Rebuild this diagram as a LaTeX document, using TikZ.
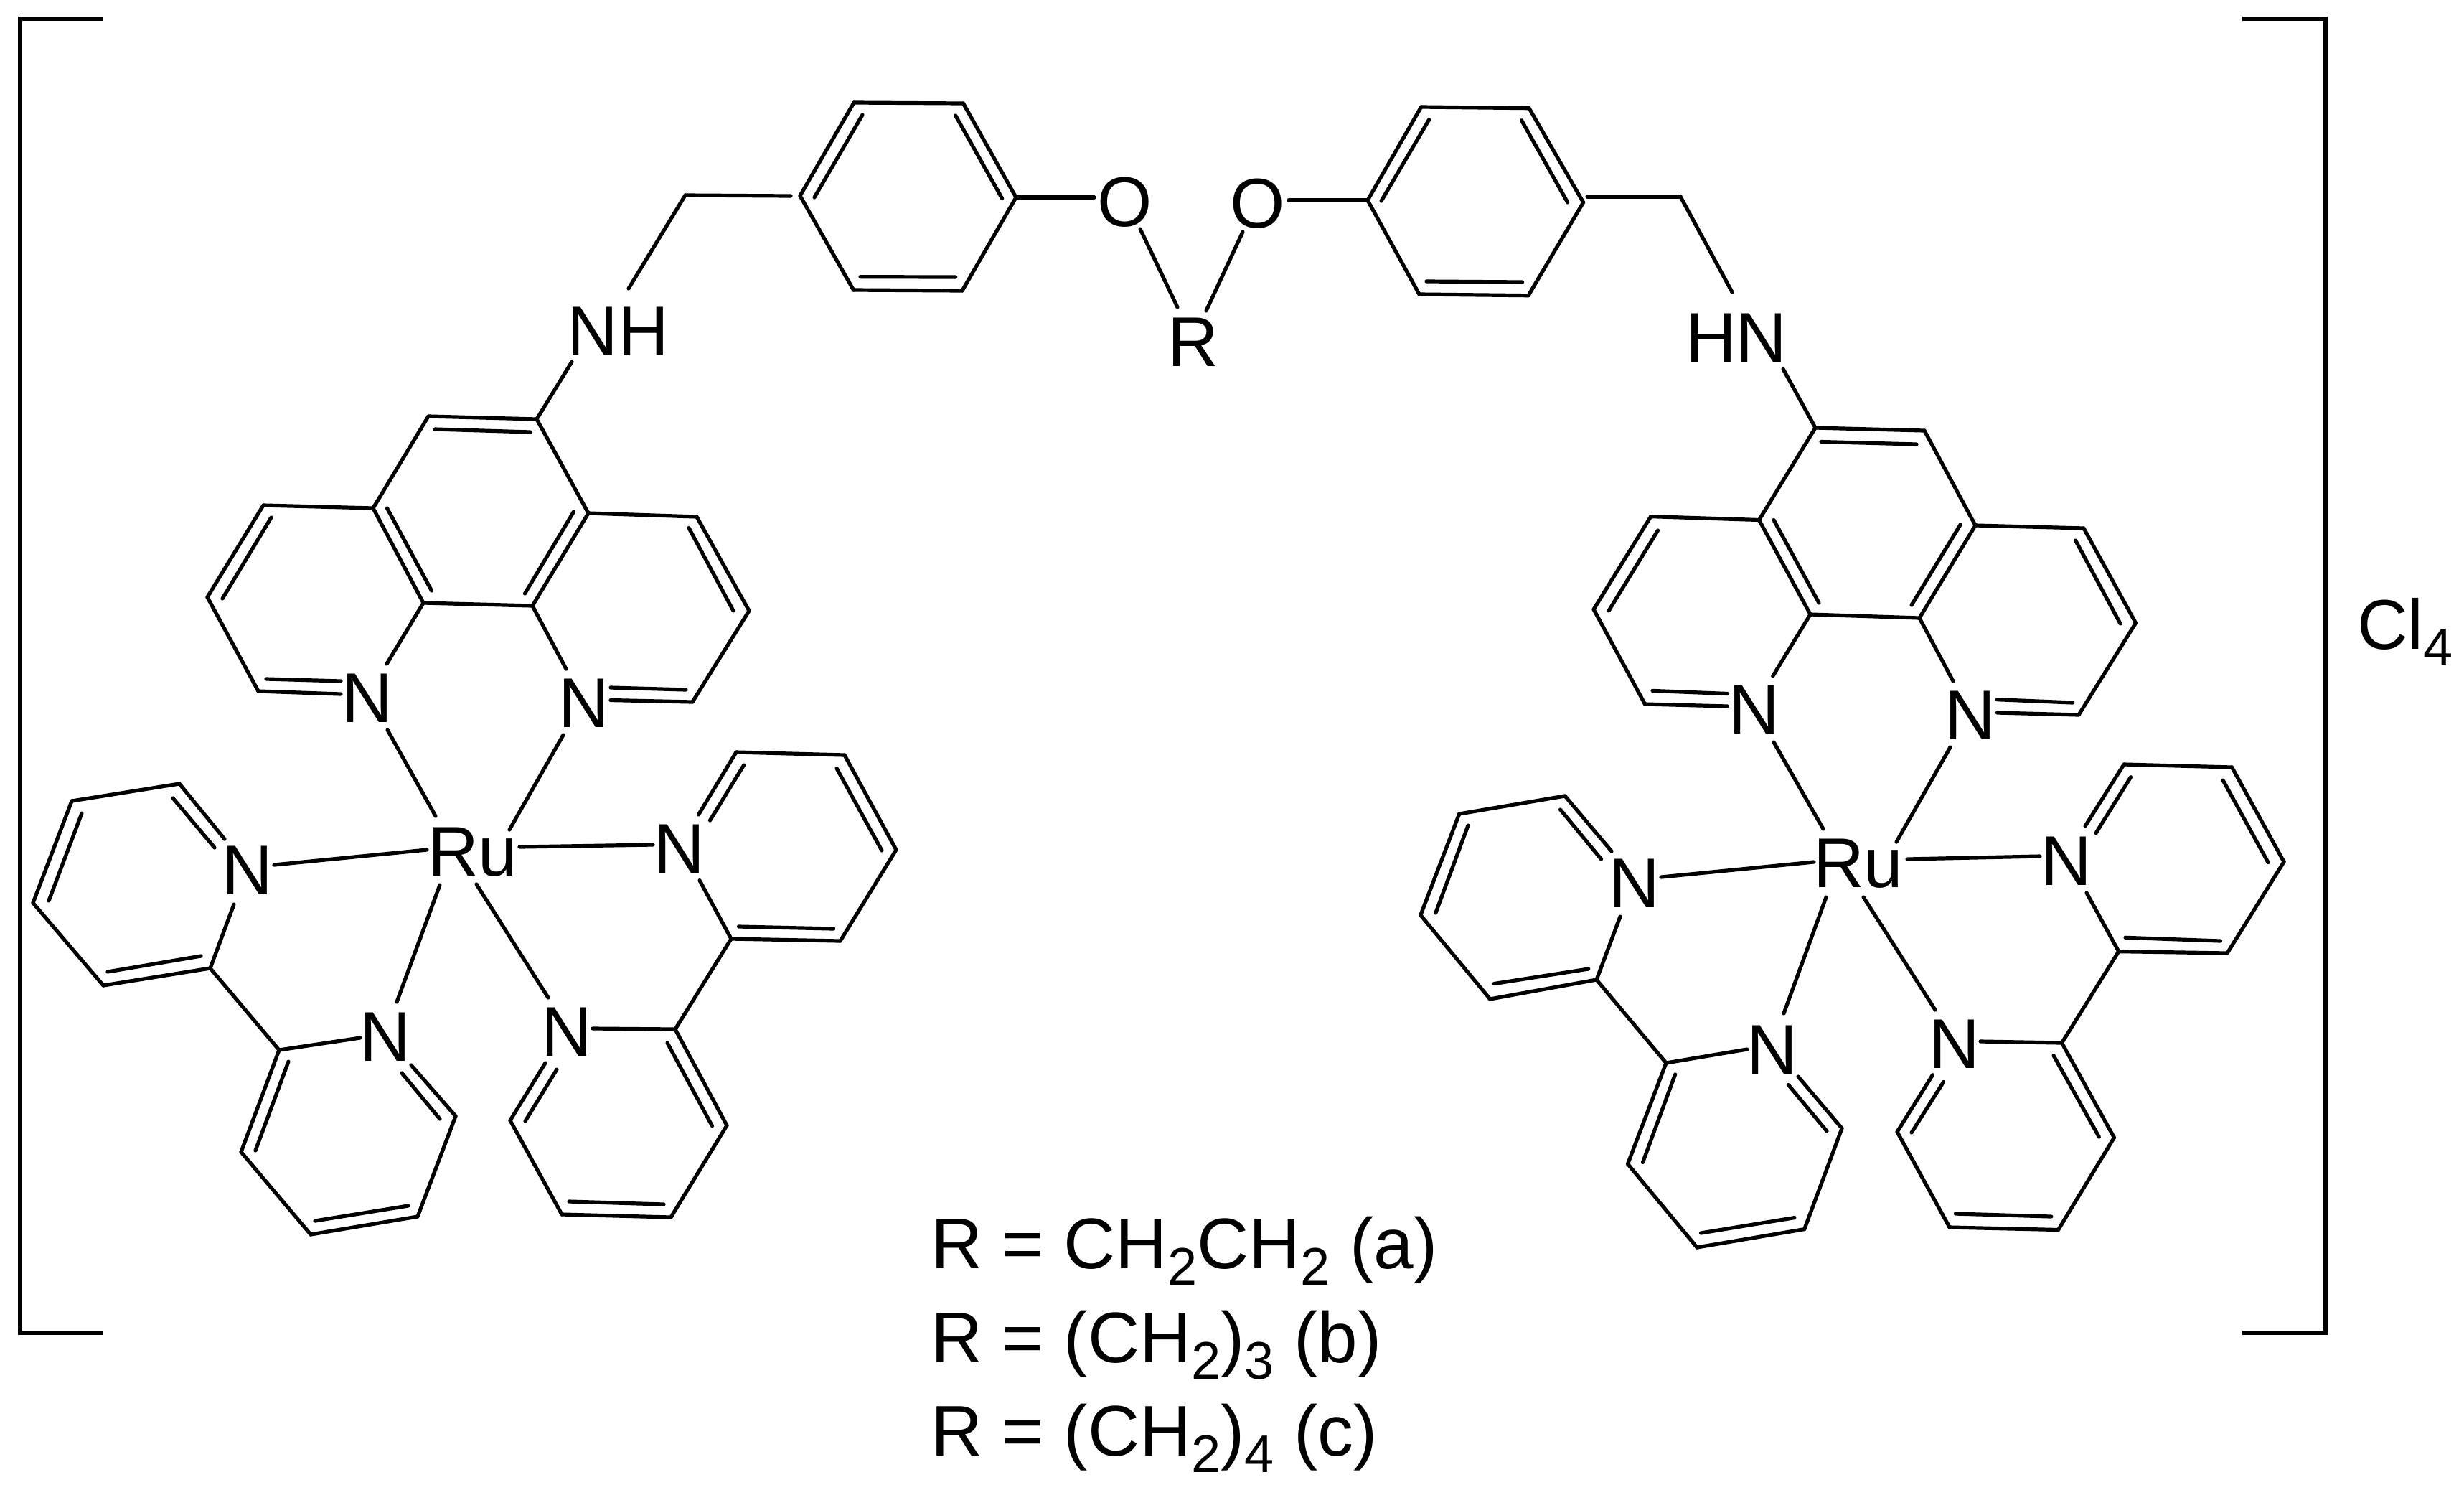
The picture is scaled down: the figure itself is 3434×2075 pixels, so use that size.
\documentclass[tikz,border=0pt]{standalone}
\usepackage{fontspec}
\setmainfont{Liberation Sans}
\newcommand{\chemsize}{\fontsize{27.9pt}{30pt}\selectfont}
\newcommand{\linesize}{\fontsize{28.4pt}{30pt}\selectfont}
\newcommand{\subsize}{\fontsize{21pt}{23pt}\selectfont}
\newcommand{\lowered}[1]{\raisebox{-0.236cm}{\subsize #1}}
\tikzset{
  bond/.style={line width=0.052cm,line cap=round,line join=round,black},
  brack/.style={line width=0.06cm,line cap=butt,line join=miter,black},
  atomlabel/.style={inner sep=0pt,outer sep=0pt,anchor=base,font=\chemsize},
  atomwest/.style={inner sep=0pt,outer sep=0pt,anchor=base west,font=\chemsize},
  textline/.style={inner sep=0pt,outer sep=0pt,anchor=base west,font=\linesize},
}
\begin{document}
\begin{tikzpicture}[x=0.01cm,y=-0.01cm]
\useasboundingbox (0,0) rectangle (3434,2075);
% ---------- left half coordinates
\foreach \n/\x/\y in {
 a/597/580,b/748/584,c/820/715,d/971/720,e/1044/851,f/965/978,g/742/844,h/590/840,i/520/708,j/367/704,k/289/832,l/360/963,
 abA/606/598,abB/739/602,ihA/539.5/708,ihB/601.5/823,cgA/799.5/713,cgB/731.5/827,deA/960/735.5,deB/1022/851,jkA/378/721,jkB/310/834,
 lN/475/967,lnA/371/946,lnB/475/949,fN/851/975.5,fnA/956/961,fnB/851/958,hN/539/925,gN/789/932,
 m/250/1092,n/100/1116,o/46/1258,p/144/1373,q/293/1349,r/389/1463,s/635/1555,t/582/1695,u/433/1720,v/336/1605,
 mN/313/1169,mnA/241/1112,mnB/299/1181,noA/114/1133,noB/68/1255,pqA/150/1354,pqB/280/1332,qN/326/1260,rN/502/1446,
 sN/573/1484,snA/613/1559,snB/560/1495,tuA/569/1680,tuB/439/1701,rvA/402/1479,rvB/356/1603,
 w/1026/1048,x/1177/1052,y/1249/1184,z/1171/1311,aa/1019/1308,bb/941/1434,cc/711/1561,dd/783/1692,ee/935/1696,ff/1013/1568,
 wN/973.5/1135,wnA/989.5/1143,wnB/1036.7/1066,xyA/1166/1070.5,xyB/1229/1185,azA/1029.5/1291,azB/1161.7/1294,aN/975/1226.6,bN/826/1433,
 cN/760/1481,cnA/776/1490,cnB/732/1562,bfA/930/1453,bfB/992.5/1568.7,dqA/793/1674,dqB/925/1678,
 onea/540/1017,oneb/607/1137,twoa/785/1024,twob/710/1156,
 ara/382/1205,arb/595/1184,bra/553/1396,brb/613/1233,cra/910/1177,crb/724/1180,dra/764/1390,drb/664/1232}
 {\coordinate (L\n) at (\x,\y);}
% ---------- right half coordinates
\foreach \n/\x/\y in {
 a/2530/596,b/2682/600,c/2753/732,d/2904/736,e/2976.5/868,f/2897/996,g/2675/861,h/2523/856,i/2451.5/724.5,j/2300.7/719.6,k/2221/849,l/2292.5/981,
 abA/2538/615.5,abB/2671/619,ihA/2472/724.5,ihB/2535/840,cgA/2732.4/730.6,cgB/2664/843,deA/2892.6/753,deB/2955/869,jkA/2310.5/739,jkB/2242/851,
 lN/2407.6/984,lnA/2303/962.4,lnB/2407.6/966.5,fN/2783.4/993,fnA/2888.7/979,fnB/2783.4/974.7,hN/2470.7/942,gN/2722/949,
 m/2181/1109,n/2033.7/1134,o/1979.8/1275,p/2076.6/1392,q/2225/1365,r/2322/1481,s/2567/1572,t/2514.7/1712.6,u/2365/1738,v/2268.5/1621.7,
 mN/2246/1186,mnA/2174.6/1128,mnB/2231.5/1197,noA/2046/1150,noB/2000.8/1272,pqA/2082/1370.6,pqB/2213.8/1350,qN/2258/1277,rN/2434.7/1462,
 sN/2506/1500,snA/2546/1576,snB/2492.4/1511.5,tuA/2500.8/1696.6,tuB/2370.4/1718,rvA/2334.6/1497,rvB/2289.5/1619.4,
 w/2960/1065,x/3110.5/1069,y/3183/1200.7,z/3104/1328,aa/2952.7/1325.6,bb/2873.5/1453,cc/2644/1577,dd/2717/1710,ee/2868.5/1713.5,ff/2946.4/1585,
 wN/2906/1151,wnA/2921/1160.7,wnB/2969.5/1082.7,xyA/3098/1087,xyB/3161/1201.6,azA/2962/1306.3,azB/3094.5/1311,aN/2908/1244,bN/2760/1451,
 cN/2693.4/1497.7,cnA/2708.6/1507.4,cnB/2664/1578,bfA/2862/1470.7,bfB/2925.3/1584,dqA/2725.4/1691,dqB/2858.8/1695,
 onea/2472/1034,oneb/2541/1155,twoa/2718/1041,twob/2643/1173,
 ara/2315/1222,arb/2528/1201,bra/2486/1412,brb/2545/1250,cra/2843/1193,crb/2658/1197,dra/2697/1407,drb/2597/1250}
 {\coordinate (R\n) at (\x,\y);}
% ---------- linker coordinates
\foreach \n/\x/\y in {
 Aa/1190/143,Ab/1342.5/144,Ac/1416/275,Ad/1341/405,Ae/1189.5/404,Af/1115/272.7,
 AafA/1202/160,AafB/1135/275,AbcA/1331.7/161,AbcB/1396.7/276.7,AedA/1199/385.7,AedB/1331.7/386,
 Da/1980.6/149,Db/2131/150.7,Dc/2206.6/282,Dd/2130/411.7,De/1978/410,Df/1906/279,
 DafA/1991.6/166.7,DafB/1925/280,DbcA/2120.5/167.7,DbcB/2184.7/282,DedA/1988/392,DedB/2121.6/393,
 ch/955/272,chA/1102/273,chB/876/402,nhb/797/504,
 dh/2342/274,dhA/2212/274,dhB/2414/407,hnb/2485/514,
 oA/1525/275,oB/1589/319,rA/1641/428,rB/1681/433,oC/1732/323,oD/1796/279,
 bLta/144/26,bLtb/28/26,bLbb/28/1857,bLba/144/1857,bRta/3125/26,bRtb/3241/26,bRbb/3241/1857,bRba/3125/1857}
 {\coordinate (\n) at (\x,\y);}
% ---------- labels
\foreach \nm/\x/\y in {LNone/512/1006.5,LNtwo/814/1013,LNa/345/1246,LNb/537/1478,LNc/947/1216,LNd/790/1471,
 RNone/2445/1022.5,RNtwo/2746/1030.6,RNa/2277.6/1264,RNb/2470/1496,RNc/2880/1233,RNd/2723.5/1488.6}
 {\node[atomlabel] (\nm) at (\x,\y) {N};}
\node[atomwest] (LNH) at (790.5,495) {NH};
\node[atomwest] (RHN) at (2349,504) {HN};
\node[atomlabel] (Oone) at (1568,315) {O};
\node[atomlabel] (Otwo) at (1753,317) {O};
\node[atomwest] (Rlink) at (1627,510) {R};
\node[atomwest] (LRu) at (596,1220) {Ru};
\node[atomwest] (RRu) at (2527,1236) {Ru};
\node[textline] (lineone) at (1297,1767) {R = CH\lowered{2}CH\lowered{2} (a)};
\node[textline] (linetwo) at (1297,1898) {R = (CH\lowered{2})\lowered{3} (b)};
\node[textline] (linethree) at (1297,2028) {R = (CH\lowered{2})\lowered{4} (c)};
\node[atomwest] (counter) at (3285,904) {Cl\lowered{4}};
% ---------- bonds for both halves
\foreach \s in {L,R}{
 \foreach \p/\q in {a/b,b/c,c/d,d/e,e/f,f/fN,g/h,g/c,h/i,i/a,i/j,j/k,k/l,l/lN,
  abA/abB,ihA/ihB,cgA/cgB,deA/deB,jkA/jkB,lnA/lnB,fnA/fnB,h/hN,g/gN,
  m/n,n/o,o/p,p/q,q/r,r/v,v/u,u/t,t/s,m/mN,q/qN,r/rN,s/sN,
  mnA/mnB,noA/noB,pqA/pqB,snA/snB,tuA/tuB,rvA/rvB,
  w/x,x/y,y/z,z/aa,aa/bb,bb/ff,ff/ee,ee/dd,dd/cc,w/wN,aa/aN,bb/bN,cc/cN,
  wnA/wnB,xyA/xyB,azA/azB,cnA/cnB,bfA/bfB,dqA/dqB,
  onea/oneb,twoa/twob,ara/arb,bra/brb,cra/crb,dra/drb}
  {\draw[bond] (\s\p) -- (\s\q);}
}
% ---------- linker bonds
\foreach \p/\q in {Aa/Ab,Ab/Ac,Ac/Ad,Ad/Ae,Ae/Af,Af/Aa,AafA/AafB,AbcA/AbcB,AedA/AedB,
 Da/Db,Db/Dc,Dc/Dd,Dd/De,De/Df,Df/Da,DafA/DafB,DbcA/DbcB,DedA/DedB,
 chA/ch,ch/chB,nhb/Lb,dhA/dh,dh/dhB,hnb/Ra,Ac/oA,oB/rA,rB/oC,oD/Df}
 {\draw[bond] (\p) -- (\q);}
% ---------- brackets
\draw[brack] (bLta) -- (bLtb) -- (bLbb) -- (bLba);
\draw[brack] (bRta) -- (bRtb) -- (bRbb) -- (bRba);
\end{tikzpicture}
\end{document}
